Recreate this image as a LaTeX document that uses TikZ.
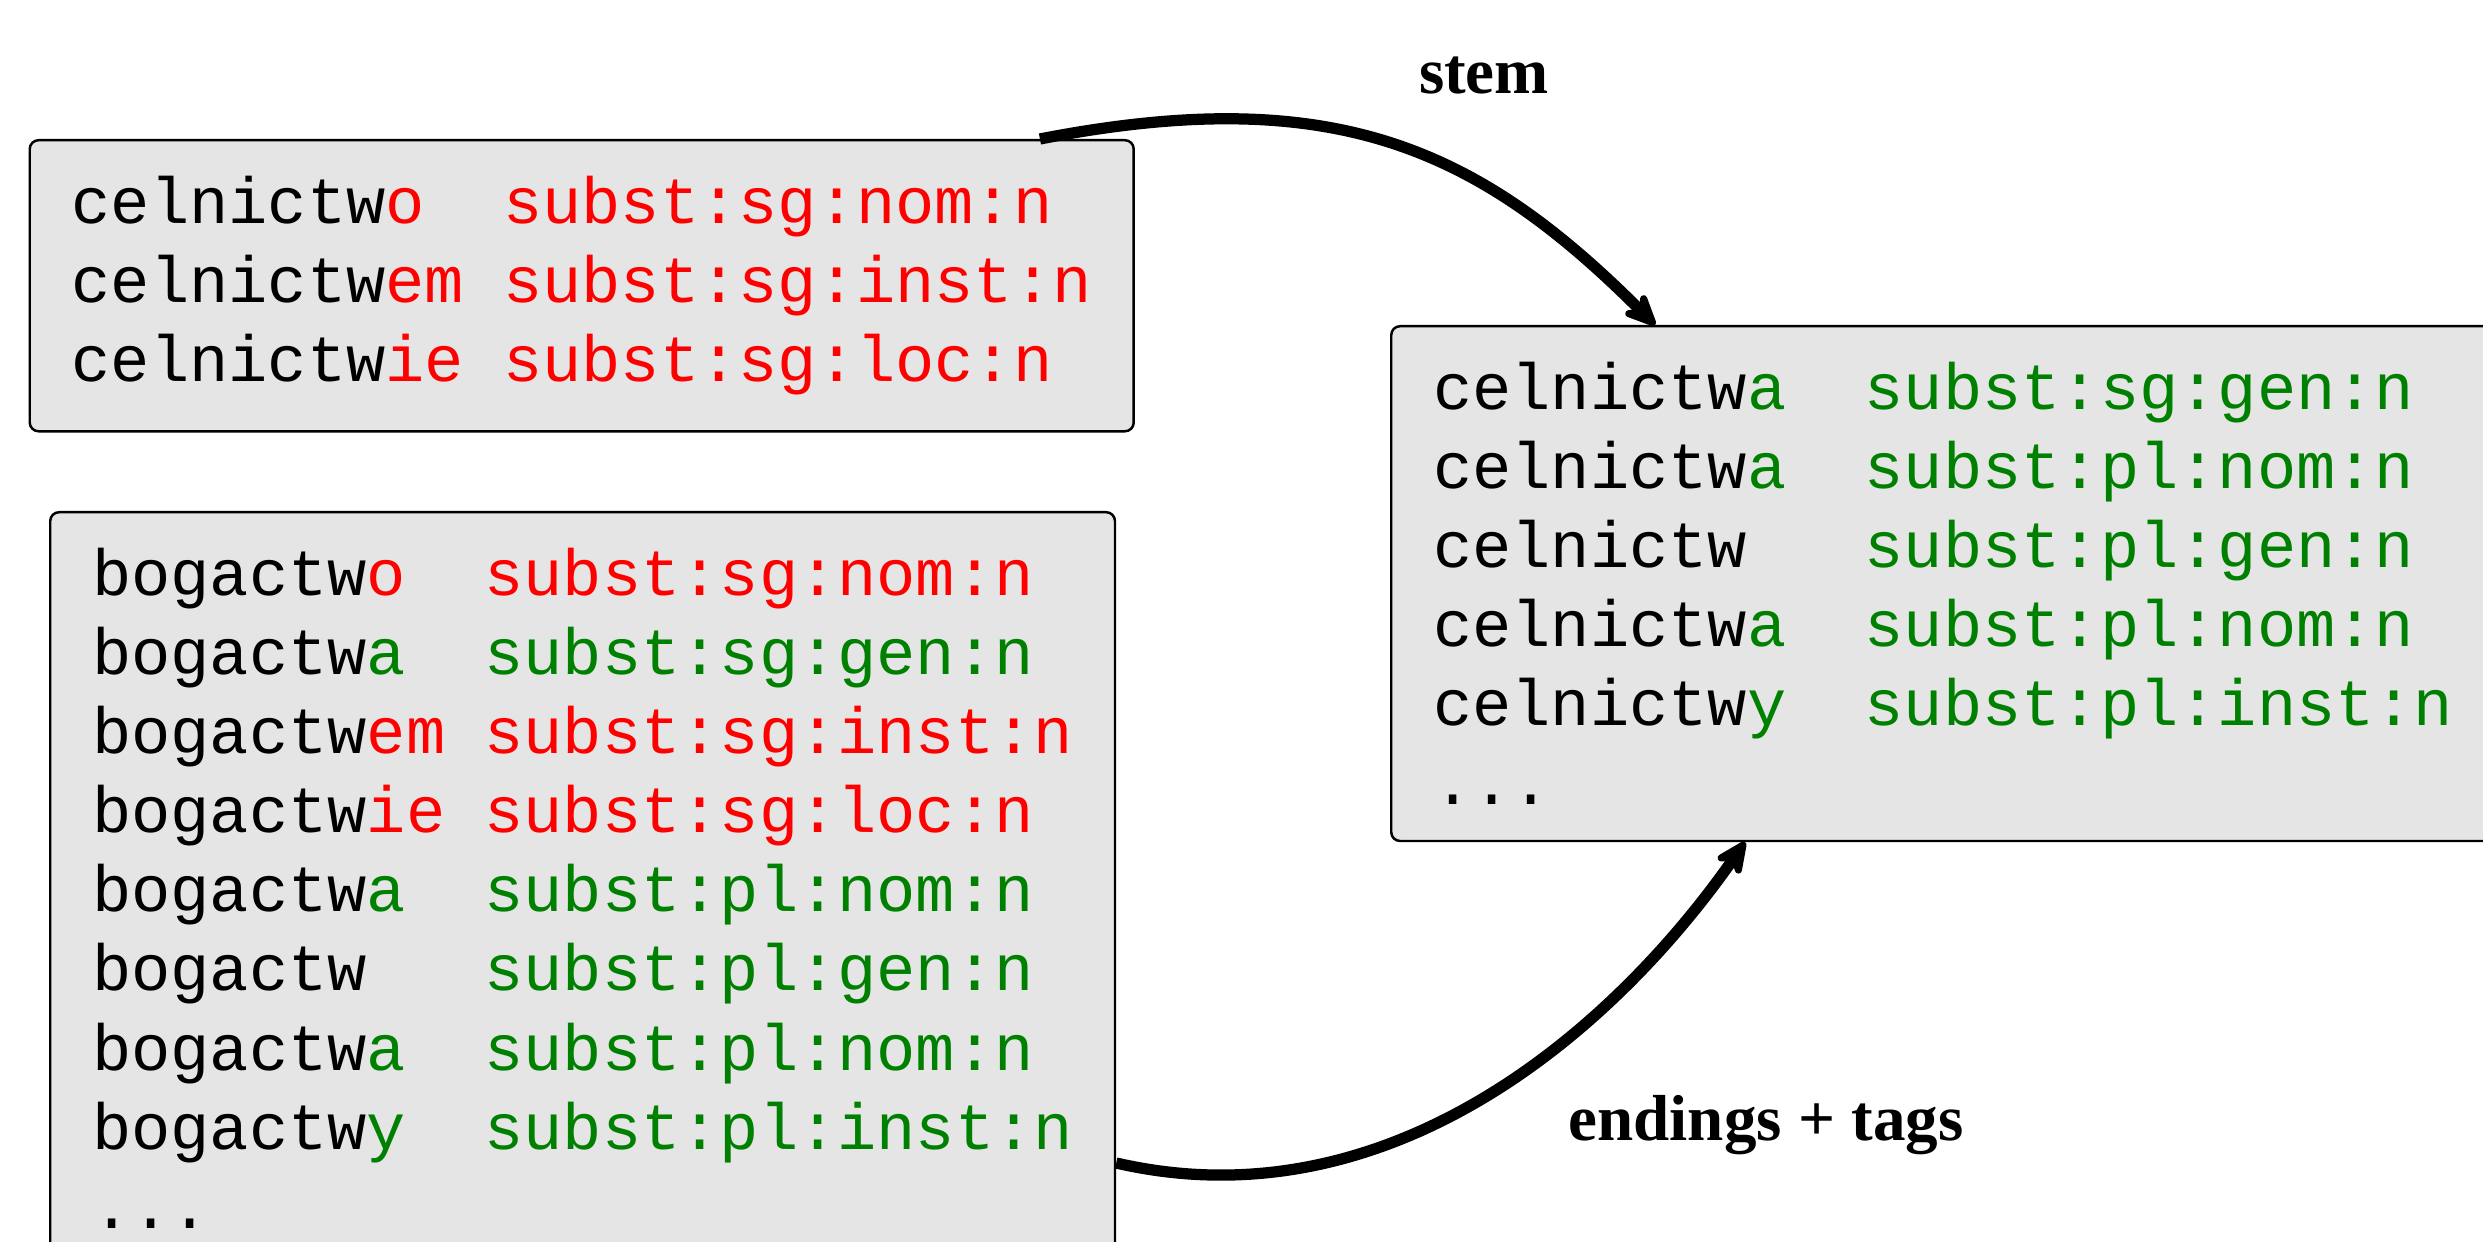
\documentclass[tikz,border=0pt]{standalone}
\usepackage{fontspec}
\setmainfont{Liberation Serif}
\setmonofont{Liberation Mono}
\usetikzlibrary{arrows.meta}

\definecolor{endred}{RGB}{255,0,0}
\definecolor{endgreen}{RGB}{0,128,0}
\newcommand{\rd}[1]{\textcolor{endred}{#1}}
\newcommand{\gr}[1]{\textcolor{endgreen}{#1}}

\tikzset{
  formbox/.style={draw, line width=0.7pt, fill=black!10, rounded corners=2.5pt,
    inner xsep=0.42cm, inner ysep=0.36cm, align=left, anchor=north west,
    font=\fontsize{18.6}{22.5}\selectfont\ttfamily},
  bigarrow/.style={line width=3.2pt, -{Stealth[length=4.2mm,width=3.8mm,inset=1.4mm,round]}},
  arrowlabel/.style={font=\fontsize{18.5}{22}\selectfont\bfseries}
}

\begin{document}
\begin{tikzpicture}
          \useasboundingbox (0,0) rectangle (24.83,12.41);

          % forms of the first lexeme
          \node[formbox] (celbox) at (0.285,11.02) {%
            celnictw\rd{o}~~\rd{subst:sg:nom:n}\\
            celnictw\rd{em}~\rd{subst:sg:inst:n}\\
            celnictw\rd{ie}~\rd{subst:sg:loc:n}};

          % forms of the second lexeme
          \node[formbox] (bogbox) at (0.49,7.30) {%
            bogactw\rd{o}~~\rd{subst:sg:nom:n}\\
            bogactw\gr{a}~~\gr{subst:sg:gen:n}\\
            bogactw\rd{em}~\rd{subst:sg:inst:n}\\
            bogactw\rd{ie}~\rd{subst:sg:loc:n}\\
            bogactw\gr{a}~~\gr{subst:pl:nom:n}\\
            bogactw~~~\gr{subst:pl:gen:n}\\
            bogactw\gr{a}~~\gr{subst:pl:nom:n}\\
            bogactw\gr{y}~~\gr{subst:pl:inst:n}\\
            ...\\
            ~};

          % guessed forms
          \node[formbox] (resbox) at (13.90,9.16) {%
            celnictw\gr{a}~~\gr{subst:sg:gen:n}\\
            celnictw\gr{a}~~\gr{subst:pl:nom:n}\\
            celnictw~~~\gr{subst:pl:gen:n}\\
            celnictw\gr{a}~~\gr{subst:pl:nom:n}\\
            celnictw\gr{y}~~\gr{subst:pl:inst:n}\\
            ...};

          \draw[bigarrow] ([xshift=-0.95cm]celbox.north east)
            .. controls +(11:3) and +(135:2.5) .. ([xshift=2.65cm]resbox.north west);
          \draw[bigarrow] ([yshift=-6.52cm]bogbox.north east)
            .. controls +(-13:2.8) and +(235:2.3) .. ([xshift=3.55cm]resbox.south west);

          \node[arrowlabel] (stemlabel) at (14.84,11.65) {stem};
          \node[arrowlabel] (endlabel) at (17.66,1.16) {endings + tags};
          \end{tikzpicture}
\end{document}
